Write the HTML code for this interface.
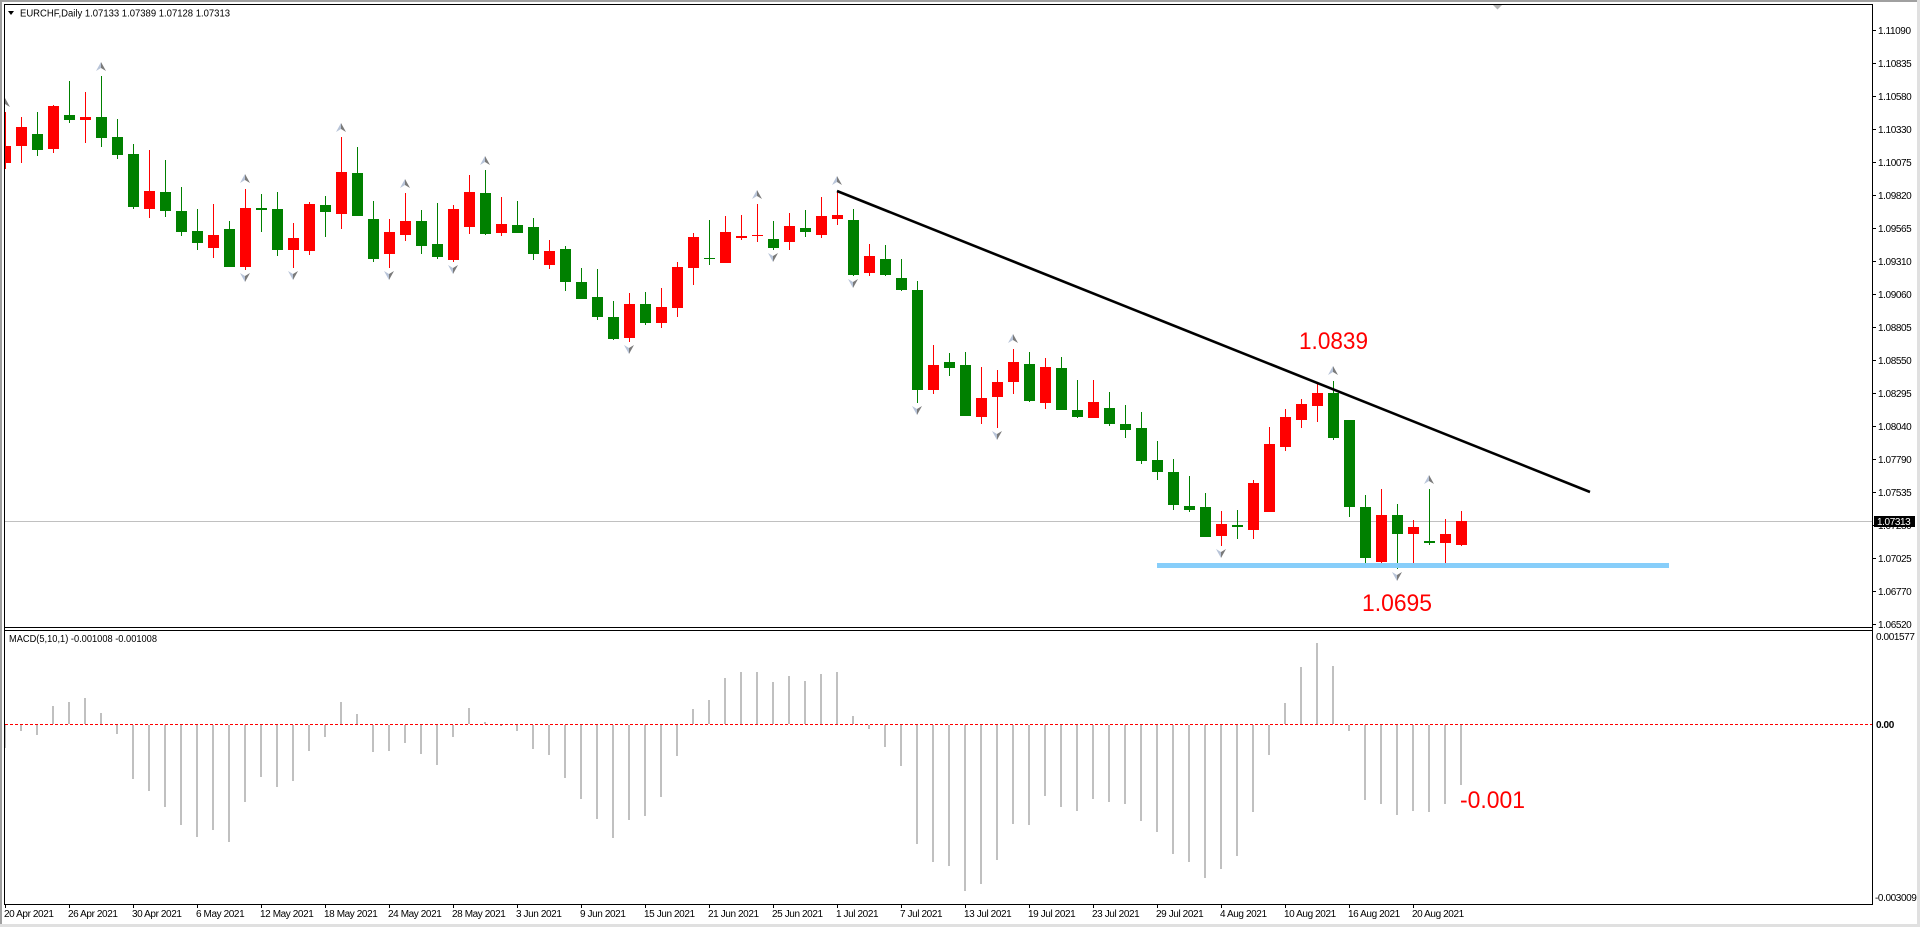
<!DOCTYPE html>
<html>
<head>
<meta charset="utf-8">
<style>
html,body{margin:0;padding:0;background:#fff;}
svg{display:block;}
.t{font-family:"Liberation Sans",Arial,sans-serif;font-size:10px;fill:#000;letter-spacing:-0.4px;}
.big{font-family:"Liberation Sans",Arial,sans-serif;font-size:24px;fill:#ff0000;}
</style>
</head>
<body>
<svg width="1920" height="927" viewBox="0 0 1920 927" xmlns="http://www.w3.org/2000/svg" shape-rendering="crispEdges">
<defs>
<clipPath id="mc"><rect x="5" y="5" width="1867" height="622"/></clipPath>
<clipPath id="dc"><rect x="5" y="631" width="1867" height="273"/></clipPath>
<g id="up"><polygon points="0,0 -5,9 0,6" fill="#b8c4d8"/><polygon points="0,0 5,9 0,6" fill="#7a7a7a"/></g>
<g id="dn"><polygon points="0,9 -5,0 0,3" fill="#b8c4d8"/><polygon points="0,9 5,0 0,3" fill="#7a7a7a"/></g>
</defs>
<rect x="0" y="0" width="1920" height="927" fill="#fff"/>
<!-- outer window borders -->
<rect x="0" y="0" width="1920" height="2" fill="#a0a0a0"/>
<rect x="0" y="0" width="2" height="927" fill="#a0a0a0"/>
<rect x="1917" y="0" width="3" height="927" fill="#e0e0e0"/>
<rect x="0" y="924" width="1920" height="3" fill="#e0e0e0"/>

<!-- main chart frame -->
<rect x="4" y="4" width="1869" height="1" fill="#000"/>
<rect x="4" y="4" width="1" height="900" fill="#000"/>
<rect x="1872" y="4" width="1" height="900" fill="#000"/>
<rect x="4" y="627" width="1869" height="1" fill="#000"/>
<rect x="4" y="630" width="1869" height="1" fill="#000"/>
<rect x="4" y="904" width="1869" height="1" fill="#000"/>

<!-- chart shift marker -->
<polygon points="1493,5 1502,5 1497.5,9.5" fill="#b4b4b4" shape-rendering="auto"/>

<!-- title -->
<polygon points="8,11 14,11 11,15" fill="#000" shape-rendering="auto"/>
<text class="t" x="20" y="16.5" textLength="210" lengthAdjust="spacingAndGlyphs" style="letter-spacing:0">EURCHF,Daily  1.07133 1.07389 1.07128 1.07313</text>

<g clip-path="url(#mc)">
<!-- current price line -->
<rect x="5" y="521" width="1867" height="1" fill="#c0c0c0"/>

<!-- green candles -->
<g fill="#008000">
<rect x="37" y="112" width="1" height="44"/><rect x="32" y="134" width="11" height="16"/>
<rect x="69" y="81" width="1" height="42"/><rect x="64" y="115" width="11" height="5"/>
<rect x="101" y="76" width="1" height="71"/><rect x="96" y="117" width="11" height="21"/>
<rect x="117" y="119" width="1" height="40"/><rect x="112" y="137" width="11" height="18"/>
<rect x="133" y="144" width="1" height="65"/><rect x="128" y="154" width="11" height="53"/>
<rect x="165" y="160" width="1" height="57"/><rect x="160" y="192" width="11" height="19"/>
<rect x="181" y="187" width="1" height="49"/><rect x="176" y="211" width="11" height="21"/>
<rect x="197" y="209" width="1" height="41"/><rect x="192" y="231" width="11" height="12"/>
<rect x="229" y="221" width="1" height="46"/><rect x="224" y="229" width="11" height="38"/>
<rect x="261" y="194" width="1" height="38"/><rect x="256" y="208" width="11" height="2"/>
<rect x="277" y="192" width="1" height="64"/><rect x="272" y="209" width="11" height="41"/>
<rect x="325" y="196" width="1" height="41"/><rect x="320" y="205" width="11" height="7"/>
<rect x="357" y="147" width="1" height="69"/><rect x="352" y="173" width="11" height="43"/>
<rect x="373" y="201" width="1" height="61"/><rect x="368" y="219" width="11" height="40"/>
<rect x="421" y="210" width="1" height="44"/><rect x="416" y="221" width="11" height="25"/>
<rect x="437" y="203" width="1" height="56"/><rect x="432" y="244" width="11" height="13"/>
<rect x="485" y="170" width="1" height="65"/><rect x="480" y="193" width="11" height="41"/>
<rect x="517" y="201" width="1" height="32"/><rect x="512" y="225" width="11" height="8"/>
<rect x="533" y="218" width="1" height="42"/><rect x="528" y="227" width="11" height="27"/>
<rect x="565" y="246" width="1" height="45"/><rect x="560" y="249" width="11" height="33"/>
<rect x="581" y="268" width="1" height="31"/><rect x="576" y="282" width="11" height="17"/>
<rect x="597" y="269" width="1" height="51"/><rect x="592" y="297" width="11" height="20"/>
<rect x="613" y="301" width="1" height="39"/><rect x="608" y="317" width="11" height="22"/>
<rect x="645" y="292" width="1" height="33"/><rect x="640" y="304" width="11" height="19"/>
<rect x="709" y="220" width="1" height="45"/><rect x="704" y="258" width="11" height="1"/>
<rect x="773" y="221" width="1" height="29"/><rect x="768" y="239" width="11" height="9"/>
<rect x="805" y="210" width="1" height="27"/><rect x="800" y="228" width="11" height="4"/>
<rect x="853" y="209" width="1" height="67"/><rect x="848" y="220" width="11" height="55"/>
<rect x="885" y="245" width="1" height="31"/><rect x="880" y="259" width="11" height="16"/>
<rect x="901" y="259" width="1" height="32"/><rect x="896" y="278" width="11" height="12"/>
<rect x="917" y="281" width="1" height="122"/><rect x="912" y="290" width="11" height="100"/>
<rect x="949" y="353" width="1" height="23"/><rect x="944" y="362" width="11" height="6"/>
<rect x="965" y="352" width="1" height="64"/><rect x="960" y="365" width="11" height="51"/>
<rect x="1029" y="352" width="1" height="50"/><rect x="1024" y="364" width="11" height="37"/>
<rect x="1061" y="357" width="1" height="53"/><rect x="1056" y="368" width="11" height="42"/>
<rect x="1077" y="380" width="1" height="38"/><rect x="1072" y="410" width="11" height="7"/>
<rect x="1109" y="392" width="1" height="34"/><rect x="1104" y="408" width="11" height="16"/>
<rect x="1125" y="405" width="1" height="33"/><rect x="1120" y="424" width="11" height="6"/>
<rect x="1141" y="412" width="1" height="52"/><rect x="1136" y="428" width="11" height="33"/>
<rect x="1157" y="441" width="1" height="39"/><rect x="1152" y="460" width="11" height="12"/>
<rect x="1173" y="459" width="1" height="51"/><rect x="1168" y="472" width="11" height="33"/>
<rect x="1189" y="476" width="1" height="36"/><rect x="1184" y="506" width="11" height="4"/>
<rect x="1205" y="493" width="1" height="44"/><rect x="1200" y="507" width="11" height="30"/>
<rect x="1237" y="510" width="1" height="29"/><rect x="1232" y="525" width="11" height="2"/>
<rect x="1333" y="381" width="1" height="59"/><rect x="1328" y="393" width="11" height="45"/>
<rect x="1349" y="420" width="1" height="97"/><rect x="1344" y="420" width="11" height="87"/>
<rect x="1365" y="495" width="1" height="68"/><rect x="1360" y="507" width="11" height="51"/>
<rect x="1397" y="504" width="1" height="65"/><rect x="1392" y="515" width="11" height="19"/>
<rect x="1429" y="489" width="1" height="56"/><rect x="1424" y="541" width="11" height="2"/>
</g>

<!-- red candles -->
<g fill="#ff0000">
<rect x="5" y="112" width="1" height="57"/><rect x="0" y="146" width="11" height="17"/>
<rect x="21" y="117" width="1" height="46"/><rect x="16" y="127" width="11" height="19"/>
<rect x="53" y="105" width="1" height="48"/><rect x="48" y="106" width="11" height="43"/>
<rect x="85" y="92" width="1" height="51"/><rect x="80" y="117" width="11" height="3"/>
<rect x="149" y="150" width="1" height="68"/><rect x="144" y="191" width="11" height="18"/>
<rect x="213" y="204" width="1" height="54"/><rect x="208" y="235" width="11" height="13"/>
<rect x="245" y="189" width="1" height="81"/><rect x="240" y="208" width="11" height="59"/>
<rect x="293" y="223" width="1" height="45"/><rect x="288" y="238" width="11" height="12"/>
<rect x="309" y="202" width="1" height="53"/><rect x="304" y="204" width="11" height="47"/>
<rect x="341" y="137" width="1" height="92"/><rect x="336" y="172" width="11" height="42"/>
<rect x="389" y="219" width="1" height="49"/><rect x="384" y="232" width="11" height="22"/>
<rect x="405" y="193" width="1" height="48"/><rect x="400" y="221" width="11" height="14"/>
<rect x="453" y="205" width="1" height="57"/><rect x="448" y="209" width="11" height="51"/>
<rect x="469" y="175" width="1" height="59"/><rect x="464" y="192" width="11" height="35"/>
<rect x="501" y="197" width="1" height="39"/><rect x="496" y="224" width="11" height="9"/>
<rect x="549" y="240" width="1" height="29"/><rect x="544" y="251" width="11" height="14"/>
<rect x="629" y="293" width="1" height="49"/><rect x="624" y="304" width="11" height="34"/>
<rect x="661" y="288" width="1" height="40"/><rect x="656" y="307" width="11" height="16"/>
<rect x="677" y="262" width="1" height="55"/><rect x="672" y="267" width="11" height="41"/>
<rect x="693" y="233" width="1" height="52"/><rect x="688" y="237" width="11" height="31"/>
<rect x="725" y="216" width="1" height="47"/><rect x="720" y="232" width="11" height="31"/>
<rect x="741" y="215" width="1" height="25"/><rect x="736" y="236" width="11" height="2"/>
<rect x="757" y="204" width="1" height="38"/><rect x="752" y="235" width="11" height="1"/>
<rect x="789" y="213" width="1" height="37"/><rect x="784" y="226" width="11" height="16"/>
<rect x="821" y="197" width="1" height="41"/><rect x="816" y="216" width="11" height="19"/>
<rect x="837" y="191" width="1" height="34"/><rect x="832" y="215" width="11" height="4"/>
<rect x="869" y="244" width="1" height="32"/><rect x="864" y="256" width="11" height="17"/>
<rect x="933" y="345" width="1" height="49"/><rect x="928" y="365" width="11" height="25"/>
<rect x="981" y="367" width="1" height="57"/><rect x="976" y="398" width="11" height="19"/>
<rect x="997" y="370" width="1" height="58"/><rect x="992" y="382" width="11" height="15"/>
<rect x="1013" y="349" width="1" height="45"/><rect x="1008" y="362" width="11" height="20"/>
<rect x="1045" y="358" width="1" height="51"/><rect x="1040" y="367" width="11" height="36"/>
<rect x="1093" y="380" width="1" height="38"/><rect x="1088" y="402" width="11" height="16"/>
<rect x="1221" y="511" width="1" height="35"/><rect x="1216" y="524" width="11" height="12"/>
<rect x="1253" y="480" width="1" height="59"/><rect x="1248" y="483" width="11" height="47"/>
<rect x="1269" y="427" width="1" height="85"/><rect x="1264" y="444" width="11" height="68"/>
<rect x="1285" y="409" width="1" height="42"/><rect x="1280" y="417" width="11" height="30"/>
<rect x="1301" y="399" width="1" height="29"/><rect x="1296" y="404" width="11" height="16"/>
<rect x="1317" y="382" width="1" height="40"/><rect x="1312" y="393" width="11" height="13"/>
<rect x="1381" y="489" width="1" height="78"/><rect x="1376" y="515" width="11" height="47"/>
<rect x="1413" y="520" width="1" height="44"/><rect x="1408" y="527" width="11" height="7"/>
<rect x="1445" y="519" width="1" height="45"/><rect x="1440" y="534" width="11" height="9"/>
<rect x="1461" y="511" width="1" height="35"/><rect x="1456" y="521" width="11" height="24"/>
</g>

<!-- fractal arrows -->
<g shape-rendering="auto">
<use href="#up" x="5" y="98"/>
<use href="#up" x="101" y="62"/>
<use href="#up" x="245" y="174"/>
<use href="#up" x="341" y="123"/>
<use href="#up" x="405" y="179"/>
<use href="#up" x="485" y="156"/>
<use href="#up" x="757" y="190"/>
<use href="#up" x="837" y="176"/>
<use href="#up" x="1013" y="334"/>
<use href="#up" x="1333" y="366"/>
<use href="#up" x="1429" y="475"/>
<use href="#dn" x="245" y="273"/>
<use href="#dn" x="293" y="271"/>
<use href="#dn" x="389" y="271"/>
<use href="#dn" x="453" y="265"/>
<use href="#dn" x="629" y="345"/>
<use href="#dn" x="773" y="253"/>
<use href="#dn" x="853" y="279"/>
<use href="#dn" x="917" y="406"/>
<use href="#dn" x="997" y="431"/>
<use href="#dn" x="1221" y="549"/>
<use href="#dn" x="1397" y="572"/>
</g>

<!-- support line -->
<rect x="1157" y="563" width="512" height="5" fill="#87cefa"/>
<!-- trendline -->
<line x1="837" y1="191" x2="1590" y2="492" stroke="#000" stroke-width="2.6" shape-rendering="auto"/>

<!-- annotations -->
<text class="big" x="1299" y="349" textLength="69" lengthAdjust="spacingAndGlyphs">1.0839</text>
<text class="big" x="1362" y="611" textLength="70" lengthAdjust="spacingAndGlyphs">1.0695</text>
</g>

<!-- price axis -->
<g fill="#000">
<rect x="1873" y="30" width="3" height="1"/><rect x="1873" y="63" width="3" height="1"/><rect x="1873" y="96" width="3" height="1"/>
<rect x="1873" y="129" width="3" height="1"/><rect x="1873" y="162" width="3" height="1"/><rect x="1873" y="195" width="3" height="1"/>
<rect x="1873" y="228" width="3" height="1"/><rect x="1873" y="261" width="3" height="1"/><rect x="1873" y="294" width="3" height="1"/>
<rect x="1873" y="327" width="3" height="1"/><rect x="1873" y="360" width="3" height="1"/><rect x="1873" y="393" width="3" height="1"/>
<rect x="1873" y="426" width="3" height="1"/><rect x="1873" y="459" width="3" height="1"/><rect x="1873" y="492" width="3" height="1"/>
<rect x="1873" y="525" width="3" height="1"/><rect x="1873" y="558" width="3" height="1"/><rect x="1873" y="591" width="3" height="1"/>
<rect x="1873" y="624" width="3" height="1"/>
</g>
<g class="t">
<text class="t" x="1878" y="34">1.11090</text>
<text class="t" x="1878" y="67">1.10835</text>
<text class="t" x="1878" y="100">1.10580</text>
<text class="t" x="1878" y="133">1.10330</text>
<text class="t" x="1878" y="166">1.10075</text>
<text class="t" x="1878" y="199">1.09820</text>
<text class="t" x="1878" y="232">1.09565</text>
<text class="t" x="1878" y="265">1.09310</text>
<text class="t" x="1878" y="298">1.09060</text>
<text class="t" x="1878" y="331">1.08805</text>
<text class="t" x="1878" y="364">1.08550</text>
<text class="t" x="1878" y="397">1.08295</text>
<text class="t" x="1878" y="430">1.08040</text>
<text class="t" x="1878" y="463">1.07790</text>
<text class="t" x="1878" y="496">1.07535</text>
<text class="t" x="1878" y="529">1.07280</text>
<text class="t" x="1878" y="562">1.07025</text>
<text class="t" x="1878" y="595">1.06770</text>
<text class="t" x="1878" y="628">1.06520</text>
</g>
<rect x="1874" y="516" width="41" height="11" fill="#000"/>
<text class="t" x="1877" y="525" style="fill:#fff">1.07313</text>

<!-- MACD panel -->
<text class="t" x="9" y="642" textLength="148" lengthAdjust="spacingAndGlyphs" style="letter-spacing:0">MACD(5,10,1) -0.001008 -0.001008</text>
<g clip-path="url(#dc)" fill="#c0c0c0">
<rect x="4" y="725" width="2" height="23"/>
<rect x="20" y="725" width="2" height="6"/>
<rect x="36" y="725" width="2" height="10"/>
<rect x="52" y="706" width="2" height="18"/>
<rect x="68" y="702" width="2" height="22"/>
<rect x="84" y="698" width="2" height="26"/>
<rect x="100" y="713" width="2" height="11"/>
<rect x="116" y="725" width="2" height="9"/>
<rect x="132" y="725" width="2" height="54"/>
<rect x="148" y="725" width="2" height="66"/>
<rect x="164" y="725" width="2" height="82"/>
<rect x="180" y="725" width="2" height="100"/>
<rect x="196" y="725" width="2" height="112"/>
<rect x="212" y="725" width="2" height="105"/>
<rect x="228" y="725" width="2" height="117"/>
<rect x="244" y="725" width="2" height="77"/>
<rect x="260" y="725" width="2" height="52"/>
<rect x="276" y="725" width="2" height="62"/>
<rect x="292" y="725" width="2" height="56"/>
<rect x="308" y="725" width="2" height="26"/>
<rect x="324" y="725" width="2" height="12"/>
<rect x="340" y="702" width="2" height="22"/>
<rect x="356" y="714" width="2" height="10"/>
<rect x="372" y="725" width="2" height="27"/>
<rect x="388" y="725" width="2" height="26"/>
<rect x="404" y="725" width="2" height="18"/>
<rect x="420" y="725" width="2" height="29"/>
<rect x="436" y="725" width="2" height="40"/>
<rect x="452" y="725" width="2" height="12"/>
<rect x="468" y="708" width="2" height="16"/>
<rect x="484" y="722" width="2" height="2"/>
<rect x="500" y="725" width="2" height="1"/>
<rect x="516" y="725" width="2" height="6"/>
<rect x="532" y="725" width="2" height="24"/>
<rect x="548" y="725" width="2" height="30"/>
<rect x="564" y="725" width="2" height="53"/>
<rect x="580" y="725" width="2" height="74"/>
<rect x="596" y="725" width="2" height="94"/>
<rect x="612" y="725" width="2" height="113"/>
<rect x="628" y="725" width="2" height="95"/>
<rect x="644" y="725" width="2" height="91"/>
<rect x="660" y="725" width="2" height="72"/>
<rect x="676" y="725" width="2" height="31"/>
<rect x="692" y="709" width="2" height="15"/>
<rect x="708" y="700" width="2" height="24"/>
<rect x="724" y="678" width="2" height="46"/>
<rect x="740" y="672" width="2" height="52"/>
<rect x="756" y="672" width="2" height="52"/>
<rect x="772" y="682" width="2" height="42"/>
<rect x="788" y="676" width="2" height="48"/>
<rect x="804" y="681" width="2" height="43"/>
<rect x="820" y="674" width="2" height="50"/>
<rect x="836" y="672" width="2" height="52"/>
<rect x="852" y="716" width="2" height="8"/>
<rect x="868" y="725" width="2" height="4"/>
<rect x="884" y="725" width="2" height="22"/>
<rect x="900" y="725" width="2" height="41"/>
<rect x="916" y="725" width="2" height="119"/>
<rect x="932" y="725" width="2" height="137"/>
<rect x="948" y="725" width="2" height="141"/>
<rect x="964" y="725" width="2" height="166"/>
<rect x="980" y="725" width="2" height="159"/>
<rect x="996" y="725" width="2" height="135"/>
<rect x="1012" y="725" width="2" height="99"/>
<rect x="1028" y="725" width="2" height="100"/>
<rect x="1044" y="725" width="2" height="71"/>
<rect x="1060" y="725" width="2" height="82"/>
<rect x="1076" y="725" width="2" height="86"/>
<rect x="1092" y="725" width="2" height="74"/>
<rect x="1108" y="725" width="2" height="77"/>
<rect x="1124" y="725" width="2" height="79"/>
<rect x="1140" y="725" width="2" height="96"/>
<rect x="1156" y="725" width="2" height="107"/>
<rect x="1172" y="725" width="2" height="129"/>
<rect x="1188" y="725" width="2" height="137"/>
<rect x="1204" y="725" width="2" height="153"/>
<rect x="1220" y="725" width="2" height="144"/>
<rect x="1236" y="725" width="2" height="131"/>
<rect x="1252" y="725" width="2" height="87"/>
<rect x="1268" y="725" width="2" height="30"/>
<rect x="1284" y="703" width="2" height="21"/>
<rect x="1300" y="667" width="2" height="57"/>
<rect x="1316" y="643" width="2" height="81"/>
<rect x="1332" y="666" width="2" height="58"/>
<rect x="1348" y="725" width="2" height="6"/>
<rect x="1364" y="725" width="2" height="75"/>
<rect x="1380" y="725" width="2" height="79"/>
<rect x="1396" y="725" width="2" height="90"/>
<rect x="1412" y="725" width="2" height="86"/>
<rect x="1428" y="725" width="2" height="87"/>
<rect x="1444" y="725" width="2" height="79"/>
<rect x="1460" y="725" width="2" height="60"/>
</g>
<line x1="5" y1="724.5" x2="1872" y2="724.5" stroke="#ff0000" stroke-width="1" stroke-dasharray="3 2"/>
<text class="big" x="1460" y="808" textLength="65" lengthAdjust="spacingAndGlyphs">-0.001</text>

<text class="t" x="1876" y="640">0.001577</text>
<text class="t" x="1876" y="728" style="font-weight:bold">0.00</text>
<text class="t" x="1875" y="901">-0.003009</text>

<!-- time axis -->
<g fill="#000">
<rect x="5" y="905" width="1" height="3"/><rect x="69" y="905" width="1" height="3"/><rect x="133" y="905" width="1" height="3"/>
<rect x="197" y="905" width="1" height="3"/><rect x="261" y="905" width="1" height="3"/><rect x="325" y="905" width="1" height="3"/>
<rect x="389" y="905" width="1" height="3"/><rect x="453" y="905" width="1" height="3"/><rect x="517" y="905" width="1" height="3"/>
<rect x="581" y="905" width="1" height="3"/><rect x="645" y="905" width="1" height="3"/><rect x="709" y="905" width="1" height="3"/>
<rect x="773" y="905" width="1" height="3"/><rect x="837" y="905" width="1" height="3"/><rect x="901" y="905" width="1" height="3"/>
<rect x="965" y="905" width="1" height="3"/><rect x="1029" y="905" width="1" height="3"/><rect x="1093" y="905" width="1" height="3"/>
<rect x="1157" y="905" width="1" height="3"/><rect x="1221" y="905" width="1" height="3"/><rect x="1285" y="905" width="1" height="3"/>
<rect x="1349" y="905" width="1" height="3"/><rect x="1413" y="905" width="1" height="3"/>
</g>
<text class="t" x="4" y="917">20 Apr 2021</text>
<text class="t" x="68" y="917">26 Apr 2021</text>
<text class="t" x="132" y="917">30 Apr 2021</text>
<text class="t" x="196" y="917">6 May 2021</text>
<text class="t" x="260" y="917">12 May 2021</text>
<text class="t" x="324" y="917">18 May 2021</text>
<text class="t" x="388" y="917">24 May 2021</text>
<text class="t" x="452" y="917">28 May 2021</text>
<text class="t" x="516" y="917">3 Jun 2021</text>
<text class="t" x="580" y="917">9 Jun 2021</text>
<text class="t" x="644" y="917">15 Jun 2021</text>
<text class="t" x="708" y="917">21 Jun 2021</text>
<text class="t" x="772" y="917">25 Jun 2021</text>
<text class="t" x="836" y="917">1 Jul 2021</text>
<text class="t" x="900" y="917">7 Jul 2021</text>
<text class="t" x="964" y="917">13 Jul 2021</text>
<text class="t" x="1028" y="917">19 Jul 2021</text>
<text class="t" x="1092" y="917">23 Jul 2021</text>
<text class="t" x="1156" y="917">29 Jul 2021</text>
<text class="t" x="1220" y="917">4 Aug 2021</text>
<text class="t" x="1284" y="917">10 Aug 2021</text>
<text class="t" x="1348" y="917">16 Aug 2021</text>
<text class="t" x="1412" y="917">20 Aug 2021</text>
</svg>
</body>
</html>
